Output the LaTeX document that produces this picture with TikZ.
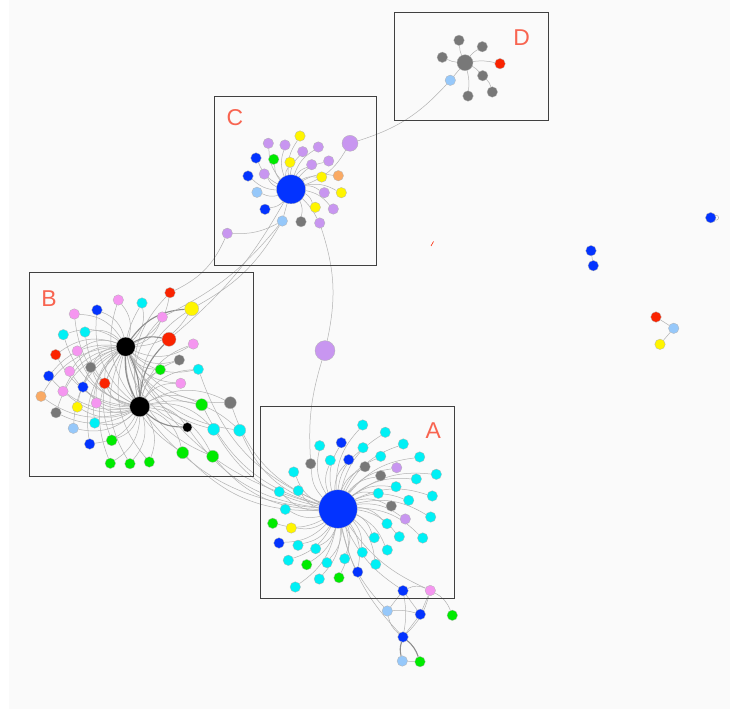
\documentclass[tikz,border=0pt]{standalone}
\usepackage{fontspec}
\setsansfont{Liberation Sans}
\usetikzlibrary{positioning}

\definecolor{bl}{RGB}{3,51,255}
\definecolor{cy}{RGB}{0,240,245}
\definecolor{lb}{RGB}{150,200,250}
\definecolor{lv}{RGB}{200,150,240}
\definecolor{pk}{RGB}{245,150,240}
\definecolor{ye}{RGB}{255,245,0}
\definecolor{gr}{RGB}{0,235,0}
\definecolor{rd}{RGB}{250,35,0}
\definecolor{og}{RGB}{250,170,100}
\definecolor{gy}{RGB}{120,120,120}
\definecolor{bk}{RGB}{0,0,0}
\definecolor{lbl}{RGB}{248,100,80}
\definecolor{bgc}{RGB}{250,250,250}

\pgfdeclarelayer{back}
\pgfdeclarelayer{links}
\pgfsetlayers{back,links,main}

\begin{document}
\begin{tikzpicture}[x=1bp, y=-1bp,
    vtx/.style={circle, draw=black!30, line width=0.3pt, inner sep=0pt, minimum size=10.5bp},
    lnk/.style={draw=black!30, line width=0.5bp},
    thick lnk/.style={draw=black!45, line width=1.1bp},
    frame/.style={draw=black!75, line width=1bp},
    tag/.style={text=lbl, font=\sffamily\fontsize{23}{23}\selectfont, inner sep=0pt}
]

\begin{pgfonlayer}{back}
\fill[white] (0,0) rectangle (730,709);
\fill[bgc] (9,0) rectangle (730,709);
\end{pgfonlayer}
\useasboundingbox (0,0) rectangle (730,709);

% cluster frames
\draw[frame] (260,406.7) rectangle (454,598.3);
\draw[frame] (29,272.7) rectangle (253.3,476.7);
\draw[frame] (214,96.3) rectangle (376.7,265);
\draw[frame] (394,13) rectangle (548,121);

\node[tag] (la) at (433.3,431) {A};
\node[tag] (lbB) at (49,299) {B};
\node[tag] (lc) at (235,117.7) {C};
\node[tag] (ld) at (521.7,37.3) {D};

% cluster A
\node[vtx, fill=bl, minimum size=38.5bp] (a0) at (338,509) {};
\foreach \c/\x/\y [count=\i] in {cy/362.7/425, cy/385.3/432.3, bl/341.3/442.7, cy/319.7/445.7,
    cy/363/447.7, cy/403.3/444, cy/380.7/456.3, cy/419.7/457, bl/348.7/459.7, cy/330.3/460.3,
    gy/365/466.7, lv/396.7/467.7, gy/380.7/475.7, cy/416.3/479, cy/436.3/474.3, cy/293.7/472,
    cy/396/486.7, cy/432.3/496, cy/378.3/493.3, cy/408.7/500.3, cy/279.3/491.7, cy/298.3/490.7,
    cy/285.3/509.3, gy/391.3/506, lv/405.3/519, cy/430.7/517, gr/272.7/523.3, ye/291.3/528,
    cy/387/523.7, cy/399.3/536.7, cy/422.7/538, cy/374.3/537.7, bl/279/543, cy/298/545.3,
    cy/315.7/548.7, cy/387.3/550, cy/362.3/552.3, cy/288.3/560.3, gr/306.7/564.7, cy/327/562.7,
    cy/344.7/558.7, cy/375.7/564.3, bl/357.7/572, gr/339/577.7, cy/319.3/579, cy/295.3/587}
    \node[vtx, fill=\c] (a\i) at (\x,\y) {};
\node[vtx, fill=gy] (ag) at (310.7,463.7) {};
\node[vtx, fill=lv, minimum size=20bp] (m) at (325,350.6) {};

% tail below A
\node[vtx, fill=bl] (e1) at (403,590.7) {};
\node[vtx, fill=pk] (e2) at (430.3,590.5) {};
\node[vtx, fill=lb] (e3) at (387.3,611) {};
\node[vtx, fill=bl] (e4) at (420.3,614.3) {};
\node[vtx, fill=gr] (e5) at (452.3,615.3) {};
\node[vtx, fill=bl] (e6) at (403,637) {};
\node[vtx, fill=lb] (e7) at (402.3,661) {};
\node[vtx, fill=gr] (e8) at (420,661.7) {};

% cluster B
\node[vtx, fill=bk, minimum size=19bp] (bx) at (125.7,346.7) {};
\node[vtx, fill=bk, minimum size=20bp] (by) at (139.7,406.7) {};
\foreach \c/\x/\y/\d [count=\i] in {rd/170/292.7/10.5, pk/118.3/300/10.5, cy/142/303/10.5,
    bl/97/310/10.5, pk/74.3/314/10.5, pk/162.3/317/10.5, cy/63.3/334.7/10.5, cy/85/332/10.5,
    pk/193.3/344/10.5, rd/55.7/354.7/10.5, pk/77.3/351/10.5, gy/90.7/367.3/10.5,
    gy/179.3/360/10.5, bl/48.7/376/10.5, pk/69.7/371.3/10.5, gr/160.3/369.7/10.5,
    cy/198.3/369.3/10.5, rd/104.7/383.3/11, bl/83/387/10.5, pk/63/391.3/10.5,
    pk/180.7/383.3/10.5, og/41/396.3/10.5, pk/96.3/403/10.5, ye/77.3/407/10.5,
    gy/230.3/402.7/12, gr/201.7/404.7/12, gy/56/412.7/10.5, cy/94.7/423/10.5,
    lb/73.3/428.3/10.5, cy/213.7/429.3/12, cy/239.7/430.3/12, bl/89.7/444/10.5,
    gr/111.7/440.3/11, gr/182.7/452.7/12, gr/212.7/456.3/12, gr/110.3/463.3/10.5,
    gr/130/463.7/10.5, gr/149.3/462/10.5}
    \node[vtx, fill=\c, minimum size=\d bp] (b\i) at (\x,\y) {};
\node[vtx, fill=ye, minimum size=14bp] (bye) at (191.7,308.7) {};
\node[vtx, fill=rd, minimum size=14bp] (brr) at (169,339.3) {};
\node[vtx, fill=bk, minimum size=9.5bp] (bsk) at (187.3,427.3) {};

% cluster C
\node[vtx, fill=bl, minimum size=29bp] (c0) at (291,189.3) {};
\foreach \c/\x/\y [count=\i] in {lv/268.3/143.3, ye/300/136, lv/285/145, lv/318.3/147,
    lv/302.7/151.7, bl/256/158, gr/273.7/159.3, ye/290/162.3, lv/328.7/161, lv/311.7/164.7,
    bl/248/176, lv/264.3/174, ye/321.7/177, og/338.3/175.7, lb/257/192.3, lv/324.3/192.7,
    ye/341.3/192.7, ye/315.3/207.3, lv/333.3/209, bl/265/209.3, gy/301/221.7}
    \node[vtx, fill=\c] (c\i) at (\x,\y) {};
\node[vtx, fill=lv, minimum size=16bp] (cbig) at (350,143.3) {};
\node[vtx, fill=lb] (clb) at (282.3,221) {};
\node[vtx, fill=lv] (clv) at (319.7,223) {};
\node[vtx, fill=lv] (cpu) at (227.3,233.3) {};

% cluster D
\node[vtx, fill=gy, minimum size=16bp] (d0) at (465,62.7) {};
\foreach \c/\x/\y [count=\i] in {gy/459/40.3, gy/482.3/46.7, gy/442.3/57.3, rd/500/63.7,
    gy/482.7/75.7, gy/468/96}
    \node[vtx, fill=\c] (d\i) at (\x,\y) {};
\node[vtx, fill=gy] (d7) at (492.3,92) {};
\node[vtx, fill=lb] (dlb) at (450.3,80.3) {};

% loose nodes on the right
\node[vtx, fill=bl] (r1) at (710.7,217.7) {};
\node[vtx, fill=bl] (r2) at (591,250.7) {};
\node[vtx, fill=bl] (r3) at (593.3,265.7) {};
\node[vtx, fill=rd] (r4) at (656,317) {};
\node[vtx, fill=lb] (r5) at (673.7,328.3) {};
\node[vtx, fill=ye] (r6) at (660,344.3) {};
\draw[rd, line width=0.6bp] (431,246) -- (433.5,241.5);

\begin{pgfonlayer}{links}
% A
\foreach \i in {1,...,46} \draw[lnk] (a0) to[bend left=22] (a\i);
\draw[lnk] (a0) to[bend left=22] (ag);
\draw[lnk] (ag) to[bend left=10] (m);
\foreach \n in {e1,e2,e3,e6} \draw[lnk] (a0) to[bend right=15] (\n);
\draw[lnk] (e1) to[bend left=25] (e2);
\draw[lnk] (e1) -- (e3);
\draw[lnk] (e1) -- (e4);
\draw[lnk] (e1) to[bend left=10] (e6);
\draw[lnk] (e2) -- (e4);
\draw[lnk] (e2) to[bend left=20] (e5);
\draw[lnk] (e2) to[bend left=15] (e6);
\draw[lnk] (e3) to[bend left=10] (e4);
\draw[lnk] (e3) to[bend right=20] (e6);
\draw[lnk] (e4) -- (e6);
\draw[thick lnk] (e6) to[bend right=15] (e7);
\draw[thick lnk] (e6) to[bend left=15] (e8);
\draw[lnk] (e7) -- (e8);
% B
\foreach \i in {1,...,38} {
    \draw[lnk] (bx) to[bend right=28] (b\i);
    \draw[lnk] (by) to[bend left=28] (b\i);
}
\foreach \n in {bye,bsk} {
    \draw[lnk] (bx) to[bend right=28] (\n);
    \draw[lnk] (by) to[bend left=28] (\n);
}
\draw[thick lnk] (bx) to[bend left=20] (brr);
\draw[thick lnk] (by) to[bend left=20] (brr);
\draw[thick lnk] (bx) to[bend left=12] (by);
\draw[thick lnk] (bx) to[bend right=15] (by);
\draw[thick lnk] (bx) to[bend left=25] (bye);
\draw[thick lnk] (by) to[bend right=20] (bsk);
\foreach \n in {bx,by,bsk,b25,b26,b30,b31,b34,b35,b17} \draw[lnk] (\n) to[bend right=24] (a0);
% B to C
\draw[lnk] (b1) to[bend right=20] (cpu);
\draw[lnk] (bye) to[bend right=15] (clb);
\draw[lnk] (b6) to[bend right=12] (clb);
\draw[lnk] (brr) to[bend right=10] (c0);
% C
\foreach \i in {1,...,21} \draw[lnk] (c0) to[bend left=20] (c\i);
\draw[lnk] (c0) to[bend right=20] (cbig);
\draw[lnk] (c0) -- (clb);
\draw[lnk] (c0) to[bend left=10] (clv);
\draw[lnk] (cpu) to[bend right=15] (clb);
\draw[lnk] (clv) to[bend left=15] (m);
\draw[lnk] (cbig) to[bend right=15] (dlb);
% D
\foreach \i in {1,...,6} \draw[lnk] (d0) to[bend left=10] (d\i);
\draw[lnk] (d0) -- (dlb);
\draw[lnk] (d5) to[bend left=15] (d7);
% right
\draw[lnk] (r1.east) circle[radius=2.5bp];
\draw[lnk] (r2) -- (r3);
\draw[lnk] (r4) -- (r5);
\draw[lnk] (r5) -- (r6);
\end{pgfonlayer}

\end{tikzpicture}
\end{document}
